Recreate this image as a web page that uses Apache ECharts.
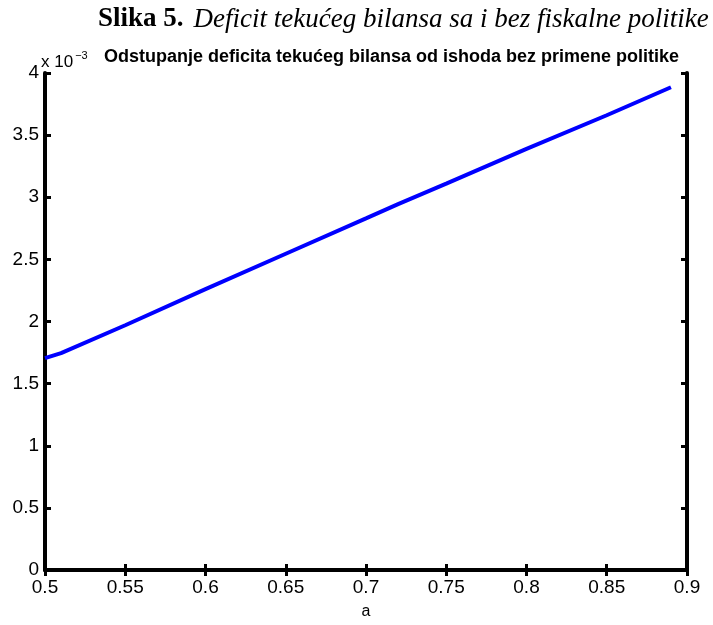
<!DOCTYPE html>
<html>
<head>
<meta charset="utf-8">
<script src="https://cdn.jsdelivr.net/npm/echarts@6/dist/echarts.min.js"></script>
<style>html,body{margin:0;padding:0;background:#fff}#c{width:713px;height:625px}</style>
</head>
<body>
<div id="c"></div>
<script>
// x values (a) and deviation of current-account deficit (in units of 1e-3)
const aValues = [0.50, 0.51, 0.55, 0.60, 0.65, 0.70, 0.72, 0.75, 0.80, 0.85, 0.89];
const deviation = [1.705, 1.745, 1.97, 2.26, 2.545, 2.83, 2.945, 3.11, 3.39, 3.66, 3.885];
const xTicks = [0.5, 0.55, 0.6, 0.65, 0.7, 0.75, 0.8, 0.85, 0.9];
const yTicks = [0, 0.5, 1, 1.5, 2, 2.5, 3, 3.5, 4];

const chart = echarts.init(document.getElementById('c'), null, {renderer: 'canvas'});
const axisLine = {show: true, lineStyle: {color: '#000', width: 4}};
const tick = {show: true, inside: true, length: 6, lineStyle: {color: '#000', width: 3}};
const lbl = {color: '#000', fontFamily: 'Liberation Sans, Arial', fontSize: 19};
chart.setOption({
  animation: false,
  backgroundColor: '#fff',
  title: [{
    text: '{b|Slika 5.}  {i|Deficit tekućeg bilansa sa i bez fiskalne politike}',
    left: 93, top: 1,
    textStyle: {rich: {
      b: {fontFamily: 'Liberation Serif', fontWeight: 'bold', fontSize: 27, color: '#000'},
      i: {fontFamily: 'Liberation Serif', fontStyle: 'italic', fontWeight: 'normal', fontSize: 27, color: '#000'}
    }}
  }, {
    text: 'Odstupanje deficita tekućeg bilansa od ishoda bez primene politike',
    left: 99, top: 43,
    textStyle: {fontFamily: 'Liberation Sans', fontWeight: 'bold', fontSize: 18, color: '#000'}
  }, {
    text: '{n|x 10}{s|−3}',
    left: 36, top: 45,
    textStyle: {rich: {
      n: {fontFamily: 'Liberation Sans', fontWeight: 'normal', fontSize: 17, color: '#000', verticalAlign: 'bottom'},
      s: {fontFamily: 'Liberation Sans', fontWeight: 'normal', fontSize: 11, color: '#000', verticalAlign: 'top', padding: [0,0,10,2]}
    }}
  }],
  grid: {left: 45, right: 26, top: 73, bottom: 48, containLabel: false},
  xAxis: [{
    type: 'value', min: 0.5, max: 0.9, interval: 0.05,
    name: 'a', nameLocation: 'middle', nameGap: 34,
    nameTextStyle: {color: '#000', fontFamily: 'Liberation Sans', fontSize: 16},
    axisLine: axisLine, axisTick: tick, splitLine: {show: false},
    axisLabel: Object.assign({margin: 8, formatter: v => String(+v.toFixed(2))}, lbl)
  }, {
    type: 'value', position: 'top', min: 0.5, max: 0.9, interval: 0.05,
    axisLine: axisLine, axisTick: tick, splitLine: {show: false}, axisLabel: {show: false}
  }],
  yAxis: [{
    type: 'value', min: 0, max: 4, interval: 0.5,
    axisLine: axisLine, axisTick: tick, splitLine: {show: false},
    axisLabel: Object.assign({margin: 6, formatter: v => String(+v.toFixed(1))}, lbl)
  }, {
    type: 'value', position: 'right', min: 0, max: 4, interval: 0.5,
    axisLine: axisLine, axisTick: tick, splitLine: {show: false}, axisLabel: {show: false}
  }],
  series: [{
    type: 'line', xAxisIndex: 0, yAxisIndex: 0,
    data: aValues.map((a, i) => [a, deviation[i]]),
    showSymbol: false, lineStyle: {color: '#0000ff', width: 4}, z: 1
  }]
});
</script>
</body>
</html>
